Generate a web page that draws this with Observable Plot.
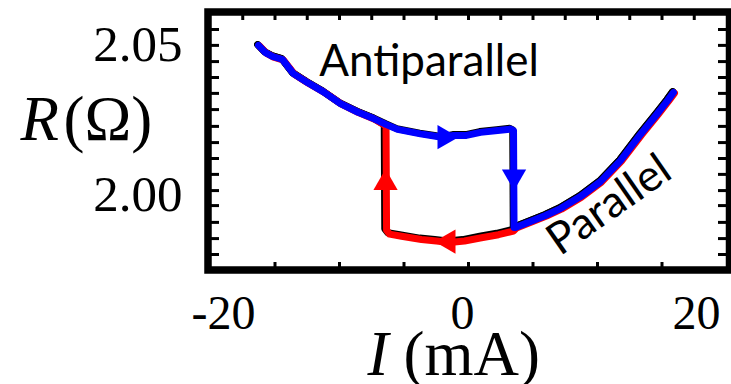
<!DOCTYPE html>
<html><head><meta charset="utf-8">
<script src="https://cdn.jsdelivr.net/npm/d3@7"></script>
<script src="https://cdn.jsdelivr.net/npm/@observablehq/plot@0.6"></script>
<style>body{margin:0;background:#fff} svg{display:block}</style>
</head><body><div id="chart"></div>
<script>
// Blue sweep (negative -> positive current), I in mA, R in ohm
const blueI = [-16.28, -15.74, -15.19, -14.42, -13.57, -12.48, -11.24, -9.92, -8.60, -7.36, -6.36, -5.50, -3.72, -1.94, -1.16, -0.16, 0.93, 2.25, 3.26, 3.49, 3.53, 3.64, 4.81, 5.97, 7.13, 8.68, 10.23, 11.78, 13.33, 14.65, 15.43, 15.89];
const blueR = [2.0497, 2.0473, 2.0460, 2.0450, 2.0403, 2.0373, 2.0342, 2.0303, 2.0275, 2.0253, 2.0233, 2.0217, 2.0202, 2.0190, 2.0197, 2.0197, 2.0207, 2.0213, 2.0218, 2.0213, 1.9890, 1.9890, 1.9910, 1.9930, 1.9953, 1.9993, 2.0043, 2.0113, 2.0200, 2.0270, 2.0313, 2.0340];
// Red sweep (positive -> negative current)
const redI = [15.89, 15.43, 14.65, 13.33, 11.78, 10.23, 8.68, 7.13, 5.97, 4.81, 3.64, 3.41, 2.25, 0.93, -0.39, -1.55, -2.56, -3.72, -5.27, -6.20, -6.43, -6.47, -7.36, -8.60, -9.92, -11.24, -12.48, -13.57, -14.42, -15.19, -15.74, -16.28];
const redR = [2.0340, 2.0313, 2.0270, 2.0200, 2.0113, 2.0043, 1.9993, 1.9953, 1.9930, 1.9910, 1.9890, 1.9880, 1.9868, 1.9858, 1.9847, 1.9842, 1.9847, 1.9852, 1.9863, 1.9870, 1.9883, 2.0230, 2.0253, 2.0275, 2.0303, 2.0342, 2.0373, 2.0403, 2.0450, 2.0460, 2.0473, 2.0497];
// Sweep-direction arrows
const arrowI = [-1.86, 3.53, -6.43, -1.55];
const arrowR = [2.0191, 2.0060, 2.0038, 1.9843];
const arrowAngle = [90, 180, 0, 270];
const arrowColor = ["blue", "blue", "red", "red"];
// Axes
const xTickLabels = [-20, 0, 20];
const xTopTicks = [-17.5, -15, -12.5, -10, -7.5, -5, -2.5, 0, 2.5, 5, 7.5, 10, 12.5, 15, 17.5];
const xBottomTicks = [-15, -10, -5, 0, 5, 10, 15];
const yTickLabels = [2.00, 2.05];
const yTicks = [2.0550, 2.0497, 2.0443, 2.0390, 2.0337, 2.0283, 2.0227, 2.0173, 2.0120, 2.0067, 2.0013, 1.9963, 1.9907, 1.9853, 1.9800];
// Annotations
const noteText = ["Antiparallel", "Parallel"];
const noteI = [-3.06, 10.9];
const noteR = [2.0443, 1.9965];
const noteAngle = [0, -35];

const blue = blueI.map((I, i) => ({I, R: blueR[i]}));
const red = redI.map((I, i) => ({I, R: redR[i]}));
const arrows = arrowI.map((I, i) => ({I, R: arrowR[i], a: arrowAngle[i], c: arrowColor[i]}));
const notes = noteText.map((t, i) => ({t, I: noteI[i], R: noteR[i], a: noteAngle[i]}));

const serif = "'Liberation Serif', 'Times New Roman', serif";
const xShift = [13, -6, -30];

const chart = Plot.plot({
  width: 731,
  height: 384,
  marginLeft: 210,
  marginRight: 5,
  marginTop: 11.5,
  marginBottom: 114.5,
  style: {background: "#fff", color: "#000", overflow: "visible"},
  x: {domain: [-20, 20], axis: null},
  y: {domain: [1.97483, 2.06083], axis: null},
  marks: [
    Plot.line(blue, {x: "I", y: "R", stroke: "#000", strokeWidth: 7, dx: -0.8, dy: -0.8, strokeLinejoin: "round"}),
    Plot.line(red, {x: "I", y: "R", stroke: "#000", strokeWidth: 7, dx: -0.8, dy: -0.8, strokeLinejoin: "round"}),
    Plot.line(red, {x: "I", y: "R", stroke: "#ff0000", strokeWidth: 7, dx: 1, dy: 0.6, strokeLinejoin: "round"}),
    Plot.line(blue, {x: "I", y: "R", stroke: "#0000ff", strokeWidth: 7, strokeLinejoin: "round"}),
    Plot.dot(arrows, {x: "I", y: "R", symbol: "triangle", r: 9, fill: d => d.c === "blue" ? "#0000ff" : "#ff0000", stroke: "none", rotate: "a"}),
    Plot.text(notes, {x: "I", y: "R", text: "t", rotate: "a", fontFamily: "Lato, sans-serif", fontSize: 44, fill: "#000", textAnchor: "middle", lineAnchor: "middle"}),
    // tick marks (inward)
    Plot.axisY({anchor: "left", ticks: yTicks, tickSize: 9, dx: 9, strokeWidth: 3, text: null, label: null}),
    Plot.axisY({anchor: "right", ticks: yTicks, tickSize: 9, dx: -9, strokeWidth: 3, text: null, label: null}),
    Plot.axisX({anchor: "top", ticks: xTopTicks, tickSize: 7.5, dy: 7.5, strokeWidth: 3, text: null, label: null}),
    Plot.axisX({anchor: "bottom", ticks: xBottomTicks, tickSize: 7.5, dy: -7.5, strokeWidth: 3, text: null, label: null}),
    // tick labels
    Plot.axisY({anchor: "left", ticks: yTickLabels, tickSize: 0, tickPadding: 28, tickFormat: d3.format(".2f"), fontSize: 51, fontFamily: serif, label: null}),
    ...xTickLabels.map((v, i) => Plot.axisX({anchor: "bottom", ticks: [v], tickSize: 0, tickPadding: 25, dx: xShift[i], tickFormat: d => String(d), fontSize: 48, fontFamily: serif, label: null})),
    // axis titles
    Plot.text(["R"], {frameAnchor: "left", dx: -190, dy: -20.7, textAnchor: "start", lineAnchor: "middle", fontSize: 63, fontFamily: serif, fontStyle: "italic", fill: "#000"}),
    Plot.text(["(Ω)"], {frameAnchor: "left", dx: -147, dy: -20.7, textAnchor: "start", lineAnchor: "middle", fontSize: 63, fontFamily: serif, fill: "#000"}),
    Plot.text(["I"], {frameAnchor: "bottom", dx: -101, dy: 85.3, textAnchor: "start", lineAnchor: "middle", fontSize: 63, fontFamily: serif, fontStyle: "italic", fill: "#000"}),
    Plot.text(["(mA)"], {frameAnchor: "bottom", dx: -65, dy: 85.3, textAnchor: "start", lineAnchor: "middle", fontSize: 63, fontFamily: serif, fill: "#000"}),
    Plot.frame({stroke: "#000", strokeWidth: 7.5, insetLeft: -2.5, insetRight: -3})
  ]
});
document.getElementById("chart").appendChild(chart);
</script>
</body></html>
